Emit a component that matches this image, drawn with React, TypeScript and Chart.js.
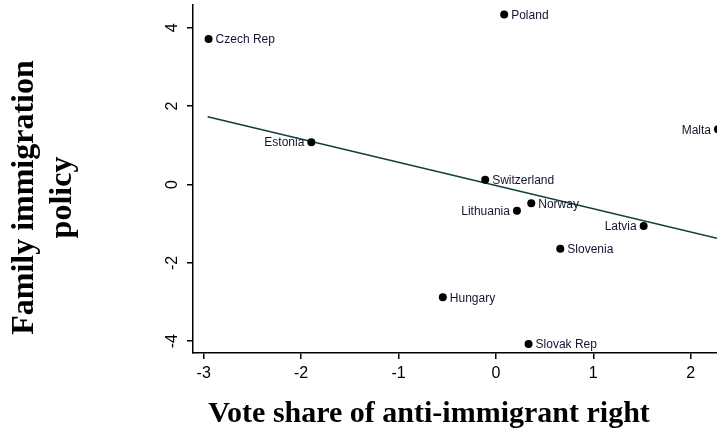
import React, { useEffect, useRef } from "react";
import { Chart, registerables } from "chart.js";

Chart.register(...registerables);

// Countries and their scores
const countries = [
  "Czech Rep", "Estonia", "Poland", "Malta", "Switzerland", "Lithuania",
  "Norway", "Latvia", "Slovenia", "Hungary", "Slovak Rep",
];
const voteShare = [-2.95, -1.895, 0.085, 2.28, -0.11, 0.216, 0.363, 1.517, 0.661, -0.545, 0.335];
const familyPolicy = [3.71, 1.08, 4.34, 1.41, 0.12, -0.67, -0.48, -1.06, -1.64, -2.88, -4.07];

// Countries whose name sits to the left of the marker
const leftLabeled = ["Estonia", "Malta", "Lithuania", "Latvia"];

// Fitted line end points
const fitX = [-2.96, 2.27];
const fitY = [1.73, -1.37];

// Axis ranges, ticks and titles
const xRange = [-3.11, 2.27];
const yRange = [-4.3, 4.58];
const xTicks = [-3, -2, -1, 0, 1, 2];
const yTicks = [-4, -2, 0, 2, 4];
const xTitle = "Vote share of anti-immigrant right";
const yTitle = ["Family immigration", "policy"];

const sansFont = '"Liberation Sans", Arial, sans-serif';
const serifFont = '"Liberation Serif", "Times New Roman", serif';

const pointLabels = {
  id: "pointLabels",
  afterDatasetsDraw(chart: any) {
    const ctx = chart.ctx;
    const meta = chart.getDatasetMeta(0);
    ctx.save();
    ctx.font = `12px ${sansFont}`;
    ctx.fillStyle = "#141432";
    ctx.textBaseline = "middle";
    meta.data.forEach((el: any, i: number) => {
      const name = countries[i];
      const left = leftLabeled.includes(name);
      ctx.textAlign = left ? "right" : "left";
      ctx.fillText(name, el.x + (left ? -7 : 7), el.y + 1);
    });
    ctx.restore();
  },
};

// Y tick labels read bottom-to-top, centred on their tick marks
const rotatedYTicks = {
  id: "rotatedYTicks",
  afterDraw(chart: any) {
    const ctx = chart.ctx;
    const ys = chart.scales.y;
    const x = chart.chartArea.left - 20;
    ctx.save();
    ctx.font = `16px ${sansFont}`;
    ctx.fillStyle = "#000";
    ctx.textAlign = "center";
    ctx.textBaseline = "middle";
    yTicks.forEach((v) => {
      ctx.save();
      ctx.translate(x, ys.getPixelForValue(v));
      ctx.rotate(-Math.PI / 2);
      ctx.fillText(String(v), 0, 0);
      ctx.restore();
    });
    ctx.restore();
  },
};

// Axis titles in bold serif
const axisTitles = {
  id: "axisTitles",
  afterDraw(chart: any) {
    const ctx = chart.ctx;
    const area = chart.chartArea;
    ctx.save();
    ctx.fillStyle = "#000";
    ctx.textAlign = "center";
    ctx.textBaseline = "alphabetic";

    ctx.font = `bold 30px ${serifFont}`;
    ctx.fillText(xTitle, area.left + 236, area.bottom + 68.5);

    ctx.font = `bold 32px ${serifFont}`;
    const cy = area.top + 192.5;
    yTitle.forEach((line, i) => {
      ctx.save();
      ctx.translate(33 + i * 37.5, cy);
      ctx.rotate(-Math.PI / 2);
      ctx.fillText(line, 0, 0);
      ctx.restore();
    });
    ctx.restore();
  },
};

export default function App() {
  const canvasRef = useRef<HTMLCanvasElement | null>(null);

  useEffect(() => {
    const canvas = canvasRef.current;
    if (!canvas) return;
    const chart = new Chart(canvas, {
      type: "scatter",
      data: {
        datasets: [
          {
            type: "scatter",
            data: countries.map((_, i) => ({ x: voteShare[i], y: familyPolicy[i] })),
            pointRadius: 4,
            pointBackgroundColor: "#000",
            pointBorderColor: "#000",
            pointBorderWidth: 0,
            pointHoverRadius: 4,
          },
          {
            type: "line",
            data: fitX.map((x, i) => ({ x, y: fitY[i] })),
            borderColor: "#10403a",
            borderWidth: 1.5,
            pointRadius: 0,
            fill: false,
          } as any,
        ],
      },
      options: {
        animation: false,
        responsive: true,
        maintainAspectRatio: false,
        layout: { autoPadding: false, padding: { top: 5, left: 0, right: 0, bottom: 0 } },
        plugins: { legend: { display: false }, tooltip: { enabled: false } },
        scales: {
          x: {
            type: "linear",
            min: xRange[0],
            max: xRange[1],
            afterBuildTicks: (s: any) => {
              s.ticks = xTicks.map((value) => ({ value }));
            },
            afterFit: (s: any) => {
              s.height = 79;
              s.paddingLeft = 0;
              s.paddingRight = 0;
            },
            grid: {
              drawOnChartArea: false,
              drawTicks: true,
              tickLength: 6,
              color: "#000",
              lineWidth: 1.5,
            },
            border: { display: true, color: "#000", width: 1.5 },
            ticks: {
              color: "#000",
              font: { family: sansFont, size: 16 },
              padding: 5,
              maxRotation: 0,
              autoSkip: false,
            },
          },
          y: {
            type: "linear",
            min: yRange[0],
            max: yRange[1],
            afterBuildTicks: (s: any) => {
              s.ticks = yTicks.map((value) => ({ value }));
            },
            afterFit: (s: any) => {
              s.width = 193;
              s.paddingTop = 0;
              s.paddingBottom = 0;
            },
            grid: {
              drawOnChartArea: false,
              drawTicks: true,
              tickLength: 6,
              color: "#000",
              lineWidth: 1.5,
            },
            border: { display: true, color: "#000", width: 1.5 },
            ticks: { display: false },
          },
        },
      },
      plugins: [pointLabels, rotatedYTicks, axisTitles],
    });
    return () => chart.destroy();
  }, []);

  return (
    <div style={{ position: "fixed", left: 0, top: 0, width: 717, height: 432, background: "#fff" }}>
      <canvas ref={canvasRef} />
    </div>
  );
}
